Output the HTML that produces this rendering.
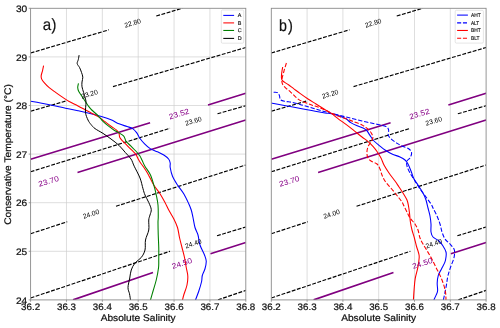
<!DOCTYPE html><html><head><meta charset="utf-8"><title>TS diagram</title>
<style>html,body{margin:0;padding:0;background:#fff;}svg{display:block;font-family:"Liberation Sans", sans-serif;will-change:transform;opacity:0.999;}text{text-rendering:geometricPrecision;}</style></head><body>
<svg width="500" height="328" viewBox="0 0 500 328">
<rect width="500" height="328" fill="#fff"/>
<clipPath id="cp1"><rect x="30.60" y="8.3" width="215.20" height="291.60"/></clipPath>
<path d="M66.47,8.3 V299.9 M102.33,8.3 V299.9 M138.20,8.3 V299.9 M174.07,8.3 V299.9 M209.93,8.3 V299.9 M30.60,56.90 H245.80 M30.60,105.50 H245.80 M30.60,154.10 H245.80 M30.60,202.70 H245.80 M30.60,251.30 H245.80" stroke="#cccccc" stroke-width="0.65" fill="none"/>
<g clip-path="url(#cp1)">
<path d="M30.60,53.00 L109.00,29.80 M156.25,16.00 L182.30,8.30 M30.60,111.25 L65.50,101.10 M113.00,86.60 L245.80,47.50 M30.60,171.75 L170.00,128.25 M217.50,113.75 L245.80,105.75 M30.60,233.75 L67.25,221.75 M116.00,206.25 L245.80,165.00 M30.60,298.00 L170.00,251.25 M217.00,235.75 L245.80,227.00 M218.00,299.90 L245.80,290.40" stroke="#000" stroke-width="1.15" stroke-dasharray="3.9 1.5" fill="none"/>
<path d="M30.60,159.30 L150.10,122.80 M208.00,105.00 L245.80,93.25 M77.50,172.50 L245.80,120.00 M73.00,299.90 L153.00,272.50 M210.50,253.75 L245.80,242.50" stroke="#800080" stroke-width="1.65" fill="none"/>
</g>
<g clip-path="url(#cp1)" fill="none" stroke-width="1.08" stroke-linejoin="round">
<path d="M30.60,101.25 C32.25,101.54 36.77,102.29 40.50,103.00 C44.23,103.71 48.83,104.62 53.00,105.50 C57.17,106.38 61.33,107.38 65.50,108.25 C69.67,109.12 74.25,109.96 78.00,110.75 C81.75,111.54 84.10,112.03 88.00,113.00 C91.90,113.97 97.57,115.47 101.40,116.60 C105.23,117.73 108.07,118.60 111.00,119.80 C113.93,121.00 116.33,122.68 119.00,123.80 C121.67,124.92 124.73,125.70 127.00,126.50 C129.27,127.30 131.00,127.58 132.60,128.60 C134.20,129.62 135.40,131.00 136.60,132.60 C137.80,134.20 138.47,136.33 139.80,138.20 C141.13,140.07 142.87,142.07 144.60,143.80 C146.33,145.53 148.07,147.27 150.20,148.60 C152.33,149.93 155.13,150.73 157.40,151.80 C159.67,152.87 161.93,153.80 163.80,155.00 C165.67,156.20 167.53,157.67 168.60,159.00 C169.67,160.33 169.93,161.58 170.20,163.00 C170.47,164.42 169.82,165.29 170.20,167.50 C170.58,169.71 171.28,173.33 172.50,176.25 C173.72,179.17 175.62,182.08 177.50,185.00 C179.38,187.92 181.88,190.62 183.75,193.75 C185.62,196.88 187.50,201.04 188.75,203.75 C190.00,206.46 190.54,207.71 191.25,210.00 C191.96,212.29 192.38,214.58 193.00,217.50 C193.62,220.42 194.17,224.58 195.00,227.50 C195.83,230.42 197.17,232.08 198.00,235.00 C198.83,237.92 198.92,241.67 200.00,245.00 C201.08,248.33 203.46,252.29 204.50,255.00 C205.54,257.71 206.17,258.96 206.25,261.25 C206.33,263.54 205.66,266.38 205.00,268.75 C204.34,271.12 202.87,273.38 202.30,275.50 C201.73,277.62 202.19,278.88 201.60,281.50 C201.01,284.12 199.77,288.18 198.75,291.25 C197.73,294.32 196.04,298.46 195.50,299.90" stroke="#0000ff"/>
<path d="M43.60,65.70 C43.42,66.55 42.90,69.15 42.50,70.80 C42.10,72.45 41.33,74.22 41.20,75.60 C41.07,76.98 41.17,77.90 41.70,79.10 C42.23,80.30 43.15,81.38 44.40,82.80 C45.65,84.22 47.33,86.00 49.20,87.60 C51.07,89.20 53.47,90.85 55.60,92.40 C57.73,93.95 59.73,95.38 62.00,96.90 C64.27,98.42 66.53,100.00 69.20,101.50 C71.87,103.00 74.87,104.28 78.00,105.90 C81.13,107.53 84.63,109.47 88.00,111.25 C91.37,113.03 95.43,114.91 98.20,116.60 C100.97,118.29 102.47,119.80 104.60,121.40 C106.73,123.00 109.00,124.73 111.00,126.20 C113.00,127.67 115.27,129.00 116.60,130.20 C117.93,131.40 118.47,132.20 119.00,133.40 C119.53,134.60 119.13,136.07 119.80,137.40 C120.47,138.73 121.80,140.07 123.00,141.40 C124.20,142.73 125.53,143.93 127.00,145.40 C128.47,146.87 130.33,148.73 131.80,150.20 C133.27,151.67 134.73,152.73 135.80,154.20 C136.87,155.67 137.40,157.53 138.20,159.00 C139.00,160.47 139.80,161.80 140.60,163.00 C141.40,164.20 141.77,164.37 143.00,166.20 C144.23,168.03 146.21,170.87 148.00,174.00 C149.79,177.13 151.75,181.71 153.75,185.00 C155.75,188.29 158.12,190.83 160.00,193.75 C161.88,196.67 163.54,199.79 165.00,202.50 C166.46,205.21 167.29,207.29 168.75,210.00 C170.21,212.71 172.29,215.83 173.75,218.75 C175.21,221.67 176.54,224.38 177.50,227.50 C178.46,230.62 178.75,234.17 179.50,237.50 C180.25,240.83 181.17,244.17 182.00,247.50 C182.83,250.83 183.79,254.17 184.50,257.50 C185.21,260.83 185.70,264.42 186.25,267.50 C186.80,270.58 187.68,273.08 187.80,276.00 C187.93,278.92 187.68,281.83 187.00,285.00 C186.32,288.17 184.50,292.52 183.75,295.00 C183.00,297.48 182.71,299.08 182.50,299.90" stroke="#ff0000"/>
<path d="M78.50,83.30 C78.37,84.02 77.65,86.22 77.70,87.60 C77.75,88.98 78.08,90.13 78.80,91.60 C79.52,93.07 80.93,94.80 82.00,96.40 C83.07,98.00 84.20,99.68 85.20,101.20 C86.20,102.72 86.91,104.03 88.00,105.50 C89.09,106.97 90.05,108.28 91.75,110.00 C93.45,111.72 96.33,113.90 98.20,115.80 C100.08,117.70 101.27,119.67 103.00,121.40 C104.73,123.13 106.73,124.73 108.60,126.20 C110.47,127.67 112.47,129.08 114.20,130.20 C115.93,131.32 117.45,131.97 119.00,132.90 C120.55,133.83 122.48,134.78 123.50,135.80 C124.52,136.82 124.65,138.07 125.10,139.00 C125.55,139.93 125.22,140.20 126.20,141.40 C127.18,142.60 129.40,144.60 131.00,146.20 C132.60,147.80 134.33,149.40 135.80,151.00 C137.27,152.60 138.73,154.20 139.80,155.80 C140.87,157.40 141.35,158.87 142.20,160.60 C143.05,162.33 143.52,163.80 144.90,166.20 C146.28,168.60 148.90,171.45 150.50,175.00 C152.10,178.55 153.54,184.17 154.50,187.50 C155.46,190.83 155.67,192.08 156.25,195.00 C156.83,197.92 157.67,201.33 158.00,205.00 C158.33,208.67 158.25,214.08 158.25,217.00 C158.25,219.92 158.00,219.50 158.00,222.50 C158.00,225.50 158.12,230.83 158.25,235.00 C158.38,239.17 158.67,243.33 158.75,247.50 C158.83,251.67 158.79,256.58 158.75,260.00 C158.71,263.42 158.92,264.67 158.50,268.00 C158.08,271.33 157.17,276.12 156.25,280.00 C155.33,283.88 153.96,287.93 153.00,291.25 C152.04,294.57 150.92,298.46 150.50,299.90" stroke="#008000"/>
<path d="M79.10,55.10 C78.97,55.85 78.62,58.18 78.30,59.60 C77.98,61.02 76.98,62.27 77.20,63.60 C77.42,64.93 78.88,66.13 79.60,67.60 C80.32,69.07 80.97,70.80 81.50,72.40 C82.03,74.00 82.72,75.60 82.80,77.20 C82.88,78.80 82.13,80.40 82.00,82.00 C81.87,83.60 81.73,85.07 82.00,86.80 C82.27,88.53 83.07,90.53 83.60,92.40 C84.13,94.27 84.80,96.32 85.20,98.00 C85.60,99.68 85.95,100.08 86.00,102.50 C86.05,104.92 85.17,109.58 85.50,112.50 C85.83,115.42 87.08,118.00 88.00,120.00 C88.92,122.00 89.83,123.07 91.00,124.50 C92.17,125.93 93.00,127.12 95.00,128.60 C97.00,130.08 100.33,131.67 103.00,133.40 C105.67,135.13 108.33,137.00 111.00,139.00 C113.67,141.00 116.60,143.13 119.00,145.40 C121.40,147.67 123.40,150.33 125.40,152.60 C127.40,154.87 129.53,156.73 131.00,159.00 C132.47,161.27 132.70,163.03 134.20,166.20 C135.70,169.37 138.53,174.24 140.00,178.00 C141.47,181.76 142.17,185.92 143.00,188.75 C143.83,191.58 144.04,192.71 145.00,195.00 C145.96,197.29 147.71,200.08 148.75,202.50 C149.79,204.92 151.04,207.42 151.25,209.50 C151.46,211.58 150.42,213.25 150.00,215.00 C149.58,216.75 148.96,217.50 148.75,220.00 C148.54,222.50 149.29,226.67 148.75,230.00 C148.21,233.33 146.12,236.67 145.50,240.00 C144.88,243.33 145.71,247.08 145.00,250.00 C144.29,252.92 142.92,255.33 141.25,257.50 C139.58,259.67 136.67,260.92 135.00,263.00 C133.33,265.08 132.12,267.50 131.25,270.00 C130.38,272.50 130.29,275.08 129.75,278.00 C129.21,280.92 128.04,284.88 128.00,287.50 C127.96,290.12 129.08,291.68 129.50,293.75 C129.92,295.82 130.33,298.88 130.50,299.90" stroke="#000000" stroke-width="1.0"/>
</g>
<text x="132.70" y="25.35" font-size="6.8" text-anchor="middle" textLength="16.9" lengthAdjust="spacingAndGlyphs" fill="#000" transform="rotate(-16.4 132.70 23.00)">22.80</text>
<text x="89.50" y="96.35" font-size="6.8" text-anchor="middle" textLength="16.9" lengthAdjust="spacingAndGlyphs" fill="#000" transform="rotate(-16.4 89.50 94.00)">23.20</text>
<text x="193.40" y="123.35" font-size="6.8" text-anchor="middle" textLength="16.9" lengthAdjust="spacingAndGlyphs" fill="#000" transform="rotate(-16.5 193.40 121.00)">23.60</text>
<text x="91.00" y="216.35" font-size="6.8" text-anchor="middle" textLength="16.9" lengthAdjust="spacingAndGlyphs" fill="#000" transform="rotate(-17.5 91.00 214.00)">24.00</text>
<text x="193.30" y="245.95" font-size="6.8" text-anchor="middle" textLength="16.9" lengthAdjust="spacingAndGlyphs" fill="#000" transform="rotate(-18.0 193.30 243.60)">24.40</text>
<text x="179.00" y="116.50" font-size="7.6" text-anchor="middle" textLength="21.0" lengthAdjust="spacingAndGlyphs" fill="#880088" transform="rotate(-17.0 179.00 113.80)">23.52</text>
<text x="48.60" y="183.90" font-size="7.6" text-anchor="middle" textLength="21.0" lengthAdjust="spacingAndGlyphs" fill="#880088" transform="rotate(-17.0 48.60 181.20)">23.70</text>
<text x="181.90" y="266.00" font-size="7.6" text-anchor="middle" textLength="21.0" lengthAdjust="spacingAndGlyphs" fill="#880088" transform="rotate(-18.0 181.90 263.30)">24.50</text>
<path d="M30.60,299.9 v1.9 M66.47,299.9 v1.9 M102.33,299.9 v1.9 M138.20,299.9 v1.9 M174.07,299.9 v1.9 M209.93,299.9 v1.9 M245.80,299.9 v1.9 M30.60,8.30 h-1.9 M30.60,56.90 h-1.9 M30.60,105.50 h-1.9 M30.60,154.10 h-1.9 M30.60,202.70 h-1.9 M30.60,251.30 h-1.9 M30.60,299.90 h-1.9" stroke="#777" stroke-width="0.7" fill="none"/>
<rect x="30.60" y="8.3" width="215.20" height="291.60" fill="none" stroke="#8a8a8a" stroke-width="0.9"/>
<text x="30.60" y="309.9" font-size="9.4" text-anchor="middle" textLength="19.0" lengthAdjust="spacingAndGlyphs" fill="#111" stroke="#111" stroke-width="0.22">36.2</text>
<text x="66.47" y="309.9" font-size="9.4" text-anchor="middle" textLength="19.0" lengthAdjust="spacingAndGlyphs" fill="#111" stroke="#111" stroke-width="0.22">36.3</text>
<text x="102.33" y="309.9" font-size="9.4" text-anchor="middle" textLength="19.0" lengthAdjust="spacingAndGlyphs" fill="#111" stroke="#111" stroke-width="0.22">36.4</text>
<text x="138.20" y="309.9" font-size="9.4" text-anchor="middle" textLength="19.0" lengthAdjust="spacingAndGlyphs" fill="#111" stroke="#111" stroke-width="0.22">36.5</text>
<text x="174.07" y="309.9" font-size="9.4" text-anchor="middle" textLength="19.0" lengthAdjust="spacingAndGlyphs" fill="#111" stroke="#111" stroke-width="0.22">36.6</text>
<text x="209.93" y="309.9" font-size="9.4" text-anchor="middle" textLength="19.0" lengthAdjust="spacingAndGlyphs" fill="#111" stroke="#111" stroke-width="0.22">36.7</text>
<text x="245.80" y="309.9" font-size="9.4" text-anchor="middle" textLength="19.0" lengthAdjust="spacingAndGlyphs" fill="#111" stroke="#111" stroke-width="0.22">36.8</text>
<text x="138.20" y="320.6" font-size="9.6" text-anchor="middle" textLength="75.0" lengthAdjust="spacingAndGlyphs" fill="#111" stroke="#111" stroke-width="0.22">Absolute Salinity</text>
<text x="27.2" y="11.90" font-size="9.4" text-anchor="end" textLength="11.3" lengthAdjust="spacingAndGlyphs" fill="#111" stroke="#111" stroke-width="0.22">30</text>
<text x="27.2" y="60.50" font-size="9.4" text-anchor="end" textLength="11.3" lengthAdjust="spacingAndGlyphs" fill="#111" stroke="#111" stroke-width="0.22">29</text>
<text x="27.2" y="109.10" font-size="9.4" text-anchor="end" textLength="11.3" lengthAdjust="spacingAndGlyphs" fill="#111" stroke="#111" stroke-width="0.22">28</text>
<text x="27.2" y="157.70" font-size="9.4" text-anchor="end" textLength="11.3" lengthAdjust="spacingAndGlyphs" fill="#111" stroke="#111" stroke-width="0.22">27</text>
<text x="27.2" y="206.30" font-size="9.4" text-anchor="end" textLength="11.3" lengthAdjust="spacingAndGlyphs" fill="#111" stroke="#111" stroke-width="0.22">26</text>
<text x="27.2" y="254.90" font-size="9.4" text-anchor="end" textLength="11.3" lengthAdjust="spacingAndGlyphs" fill="#111" stroke="#111" stroke-width="0.22">25</text>
<text x="27.2" y="303.50" font-size="9.4" text-anchor="end" textLength="11.3" lengthAdjust="spacingAndGlyphs" fill="#111" stroke="#111" stroke-width="0.22">24</text>
<text x="0" y="0" font-size="9.6" text-anchor="middle" textLength="140.6" lengthAdjust="spacingAndGlyphs" fill="#111" stroke="#111" stroke-width="0.22" transform="translate(11.0 154.5) rotate(-90)">Conservative Temperature (°C)</text>
<g font-size="16.3" fill="#111" stroke="#111" stroke-width="0.2"><text x="42.75" y="30.45" textLength="8.4" lengthAdjust="spacingAndGlyphs">a</text><text x="51.6" y="30.45" textLength="4.9" lengthAdjust="spacingAndGlyphs">)</text></g>
<rect x="221.3" y="10" width="22.4" height="33.2" rx="1.2" fill="#fff" fill-opacity="0.8" stroke="#d4d4d4" stroke-width="0.6"/>
<path d="M223.3,15.40 H234.1" stroke="#0000ff" stroke-width="1.05" fill="none"/>
<text x="237.8" y="17.05" font-size="5.4" fill="#222" stroke="#222" stroke-width="0.18">A</text>
<path d="M223.3,22.90 H234.1" stroke="#ff0000" stroke-width="1.05" fill="none"/>
<text x="237.8" y="24.85" font-size="5.4" fill="#222" stroke="#222" stroke-width="0.18">B</text>
<path d="M223.3,30.45 H234.1" stroke="#008000" stroke-width="1.05" fill="none"/>
<text x="237.8" y="32.45" font-size="5.4" fill="#222" stroke="#222" stroke-width="0.18">C</text>
<path d="M223.3,38.40 H234.1" stroke="#000000" stroke-width="1.05" fill="none"/>
<text x="237.8" y="40.15" font-size="5.4" fill="#222" stroke="#222" stroke-width="0.18">D</text>
<clipPath id="cp2"><rect x="271.30" y="8.3" width="214.80" height="291.60"/></clipPath>
<path d="M307.10,8.3 V299.9 M342.90,8.3 V299.9 M378.70,8.3 V299.9 M414.50,8.3 V299.9 M450.30,8.3 V299.9" stroke="#cccccc" stroke-width="0.65" fill="none"/>
<g clip-path="url(#cp2)">
<path d="M271.30,53.00 L349.55,29.80 M396.72,16.00 L422.72,8.30 M271.30,111.25 L306.14,101.10 M353.55,86.60 L486.10,47.50 M271.30,171.75 L410.44,128.25 M457.85,113.75 L486.10,105.75 M271.30,233.75 L307.88,221.75 M356.54,206.25 L486.10,165.00 M271.30,298.00 L410.44,251.25 M457.35,235.75 L486.10,227.00 M458.35,299.90 L486.10,290.40" stroke="#000" stroke-width="1.15" stroke-dasharray="3.9 1.5" fill="none"/>
<path d="M271.30,159.30 L390.58,122.80 M448.37,105.00 L486.10,93.25 M318.11,172.50 L486.10,120.00 M313.62,299.90 L393.47,272.50 M450.87,253.75 L486.10,242.50" stroke="#800080" stroke-width="1.65" fill="none"/>
</g>
<g clip-path="url(#cp2)" fill="none" stroke-width="1.08" stroke-linejoin="round">
<path d="M271.30,103.00 C273.25,103.38 278.55,104.47 283.00,105.30 C287.45,106.13 293.00,107.09 298.00,108.00 C303.00,108.91 308.50,109.92 313.00,110.75 C317.50,111.58 321.90,112.53 325.00,113.00 C328.10,113.47 329.17,113.12 331.60,113.60 C334.03,114.08 337.20,115.03 339.60,115.90 C342.00,116.77 344.13,117.68 346.00,118.80 C347.87,119.92 348.93,121.43 350.80,122.60 C352.67,123.77 355.07,124.87 357.20,125.80 C359.33,126.73 362.00,127.40 363.60,128.20 C365.20,129.00 365.73,129.40 366.80,130.60 C367.87,131.80 368.80,133.67 370.00,135.40 C371.20,137.13 372.40,139.27 374.00,141.00 C375.60,142.73 377.77,144.30 379.60,145.80 C381.43,147.30 382.93,148.63 385.00,150.00 C387.07,151.37 389.50,152.83 392.00,154.00 C394.50,155.17 397.83,156.00 400.00,157.00 C402.17,158.00 403.67,158.83 405.00,160.00 C406.33,161.17 407.00,162.17 408.00,164.00 C409.00,165.83 410.00,168.50 411.00,171.00 C412.00,173.50 412.83,176.67 414.00,179.00 C415.17,181.33 416.50,182.67 418.00,185.00 C419.50,187.33 421.67,190.50 423.00,193.00 C424.33,195.50 425.17,197.50 426.00,200.00 C426.83,202.50 427.33,205.33 428.00,208.00 C428.67,210.67 429.50,213.33 430.00,216.00 C430.50,218.67 430.83,221.33 431.00,224.00 C431.17,226.67 430.67,229.83 431.00,232.00 C431.33,234.17 431.67,235.50 433.00,237.00 C434.33,238.50 437.33,239.50 439.00,241.00 C440.67,242.50 441.83,244.17 443.00,246.00 C444.17,247.83 445.50,250.17 446.00,252.00 C446.50,253.83 446.18,255.32 446.00,257.00 C445.82,258.68 445.63,260.15 444.90,262.10 C444.17,264.05 442.70,266.50 441.60,268.70 C440.50,270.90 439.03,272.92 438.30,275.30 C437.57,277.68 437.32,280.43 437.20,283.00 C437.08,285.57 437.78,288.68 437.60,290.70 C437.42,292.72 436.72,293.57 436.10,295.10 C435.48,296.63 434.27,299.10 433.90,299.90" stroke="#0000ff"/>
<path d="M273.60,92.30 C274.27,92.35 276.62,92.02 277.60,92.60 C278.58,93.18 279.02,94.60 279.50,95.80 C279.98,97.00 279.48,98.87 280.50,99.80 C281.52,100.73 283.68,100.98 285.60,101.40 C287.52,101.82 289.60,101.80 292.00,102.30 C294.40,102.80 297.33,103.65 300.00,104.40 C302.67,105.15 305.33,106.00 308.00,106.80 C310.67,107.60 313.33,108.43 316.00,109.20 C318.67,109.97 321.40,110.70 324.00,111.40 C326.60,112.10 327.93,112.47 331.60,113.40 C335.27,114.33 340.93,115.73 346.00,117.00 C351.07,118.27 356.67,119.75 362.00,121.00 C367.33,122.25 374.00,123.57 378.00,124.50 C382.00,125.43 384.23,125.72 386.00,126.60 C387.77,127.48 388.20,128.33 388.60,129.80 C389.00,131.27 387.90,133.80 388.40,135.40 C388.90,137.00 390.13,138.07 391.60,139.40 C393.07,140.73 395.47,142.30 397.20,143.40 C398.93,144.50 400.03,145.07 402.00,146.00 C403.97,146.93 407.40,147.83 409.00,149.00 C410.60,150.17 411.43,151.50 411.60,153.00 C411.77,154.50 410.77,156.67 410.00,158.00 C409.23,159.33 407.50,159.67 407.00,161.00 C406.50,162.33 406.50,164.00 407.00,166.00 C407.50,168.00 408.67,170.50 410.00,173.00 C411.33,175.50 413.33,178.33 415.00,181.00 C416.67,183.67 418.17,186.33 420.00,189.00 C421.83,191.67 424.17,194.50 426.00,197.00 C427.83,199.50 429.83,202.17 431.00,204.00 C432.17,205.83 432.00,206.00 433.00,208.00 C434.00,210.00 435.83,213.33 437.00,216.00 C438.17,218.67 439.17,221.33 440.00,224.00 C440.83,226.67 441.17,229.50 442.00,232.00 C442.83,234.50 443.67,237.00 445.00,239.00 C446.33,241.00 448.50,242.33 450.00,244.00 C451.50,245.67 453.23,247.50 454.00,249.00 C454.77,250.50 454.65,251.37 454.60,253.00 C454.55,254.63 454.40,256.37 453.70,258.80 C453.00,261.23 451.38,264.67 450.40,267.60 C449.42,270.53 448.47,273.47 447.80,276.40 C447.13,279.33 446.88,282.45 446.40,285.20 C445.92,287.95 445.40,290.45 444.90,292.90 C444.40,295.35 443.65,298.73 443.40,299.90" stroke="#0000ff" stroke-dasharray="4.3 1.85"/>
<path d="M282.70,67.00 C282.58,67.67 282.20,69.67 282.00,71.00 C281.80,72.33 281.58,73.78 281.50,75.00 C281.42,76.22 281.33,77.37 281.50,78.30 C281.67,79.23 281.95,79.92 282.50,80.60 C283.05,81.28 283.80,81.70 284.80,82.40 C285.80,83.10 287.03,83.77 288.50,84.80 C289.97,85.83 291.68,87.17 293.60,88.60 C295.52,90.03 297.60,91.67 300.00,93.40 C302.40,95.13 305.33,97.23 308.00,99.00 C310.67,100.77 313.08,102.17 316.00,104.00 C318.92,105.83 322.90,108.40 325.50,110.00 C328.10,111.60 329.52,112.17 331.60,113.60 C333.68,115.03 335.60,116.80 338.00,118.60 C340.40,120.40 343.33,122.40 346.00,124.40 C348.67,126.40 351.33,128.50 354.00,130.60 C356.67,132.70 359.60,135.13 362.00,137.00 C364.40,138.87 366.53,140.20 368.40,141.80 C370.27,143.40 371.77,144.98 373.20,146.60 C374.63,148.22 375.70,149.60 377.00,151.50 C378.30,153.40 379.83,155.75 381.00,158.00 C382.17,160.25 382.67,162.50 384.00,165.00 C385.33,167.50 387.17,170.33 389.00,173.00 C390.83,175.67 393.33,178.67 395.00,181.00 C396.67,183.33 397.67,185.00 399.00,187.00 C400.33,189.00 401.67,190.83 403.00,193.00 C404.33,195.17 406.08,197.83 407.00,200.00 C407.92,202.17 408.07,203.67 408.50,206.00 C408.93,208.33 409.28,211.33 409.60,214.00 C409.92,216.67 410.00,219.33 410.40,222.00 C410.80,224.67 411.33,227.33 412.00,230.00 C412.67,232.67 413.67,235.33 414.40,238.00 C415.13,240.67 415.70,243.50 416.40,246.00 C417.10,248.50 418.13,251.08 418.60,253.00 C419.07,254.92 419.33,255.07 419.20,257.50 C419.07,259.93 418.47,264.08 417.80,267.60 C417.13,271.12 415.82,274.93 415.20,278.60 C414.58,282.27 414.40,286.05 414.10,289.60 C413.80,293.15 413.52,298.18 413.40,299.90" stroke="#ff0000"/>
<path d="M286.40,63.00 C286.00,64.33 284.73,68.33 284.00,71.00 C283.27,73.67 282.27,76.87 282.00,79.00 C281.73,81.13 281.80,82.33 282.40,83.80 C283.00,85.27 284.27,86.47 285.60,87.80 C286.93,89.13 288.80,90.33 290.40,91.80 C292.00,93.27 293.60,95.17 295.20,96.60 C296.80,98.03 298.13,99.33 300.00,100.40 C301.87,101.47 304.27,102.17 306.40,103.00 C308.53,103.83 310.87,104.73 312.80,105.40 C314.73,106.07 315.80,106.15 318.00,107.00 C320.20,107.85 323.73,109.47 326.00,110.50 C328.27,111.53 329.60,112.28 331.60,113.20 C333.60,114.12 335.60,115.07 338.00,116.00 C340.40,116.93 343.33,117.83 346.00,118.80 C348.67,119.77 351.33,120.77 354.00,121.80 C356.67,122.83 359.87,123.93 362.00,125.00 C364.13,126.07 365.33,127.00 366.80,128.20 C368.27,129.40 369.78,130.73 370.80,132.20 C371.82,133.67 372.77,135.53 372.90,137.00 C373.03,138.47 372.32,139.58 371.60,141.00 C370.88,142.42 369.37,143.83 368.60,145.50 C367.83,147.17 367.17,149.08 367.00,151.00 C366.83,152.92 366.93,155.33 367.60,157.00 C368.27,158.67 369.43,159.83 371.00,161.00 C372.57,162.17 375.50,162.67 377.00,164.00 C378.50,165.33 379.17,167.17 380.00,169.00 C380.83,170.83 381.17,173.00 382.00,175.00 C382.83,177.00 383.67,179.00 385.00,181.00 C386.33,183.00 388.33,185.00 390.00,187.00 C391.67,189.00 393.50,191.17 395.00,193.00 C396.50,194.83 397.83,196.50 399.00,198.00 C400.17,199.50 401.17,200.67 402.00,202.00 C402.83,203.33 403.17,204.33 404.00,206.00 C404.83,207.67 406.00,210.00 407.00,212.00 C408.00,214.00 408.67,216.00 410.00,218.00 C411.33,220.00 413.67,222.00 415.00,224.00 C416.33,226.00 417.17,227.67 418.00,230.00 C418.83,232.33 419.17,235.67 420.00,238.00 C420.83,240.33 421.78,241.82 423.00,244.00 C424.22,246.18 425.85,248.63 427.30,251.10 C428.75,253.57 430.23,256.05 431.70,258.80 C433.17,261.55 434.63,264.67 436.10,267.60 C437.57,270.53 439.22,273.47 440.50,276.40 C441.78,279.33 442.95,282.45 443.80,285.20 C444.65,287.95 445.23,290.45 445.60,292.90 C445.97,295.35 445.93,298.73 446.00,299.90" stroke="#ff0000" stroke-dasharray="4.3 1.85"/>
</g>
<text x="373.21" y="25.35" font-size="6.8" text-anchor="middle" textLength="16.9" lengthAdjust="spacingAndGlyphs" fill="#000" transform="rotate(-16.4 373.21 23.00)">22.80</text>
<text x="330.09" y="96.35" font-size="6.8" text-anchor="middle" textLength="16.9" lengthAdjust="spacingAndGlyphs" fill="#000" transform="rotate(-16.4 330.09 94.00)">23.20</text>
<text x="433.80" y="123.35" font-size="6.8" text-anchor="middle" textLength="16.9" lengthAdjust="spacingAndGlyphs" fill="#000" transform="rotate(-16.5 433.80 121.00)">23.60</text>
<text x="331.59" y="216.35" font-size="6.8" text-anchor="middle" textLength="16.9" lengthAdjust="spacingAndGlyphs" fill="#000" transform="rotate(-17.5 331.59 214.00)">24.00</text>
<text x="433.70" y="245.95" font-size="6.8" text-anchor="middle" textLength="16.9" lengthAdjust="spacingAndGlyphs" fill="#000" transform="rotate(-18.0 433.70 243.60)">24.40</text>
<text x="419.42" y="116.50" font-size="7.6" text-anchor="middle" textLength="21.0" lengthAdjust="spacingAndGlyphs" fill="#880088" transform="rotate(-17.0 419.42 113.80)">23.52</text>
<text x="289.27" y="183.90" font-size="7.6" text-anchor="middle" textLength="21.0" lengthAdjust="spacingAndGlyphs" fill="#880088" transform="rotate(-17.0 289.27 181.20)">23.70</text>
<text x="422.32" y="266.00" font-size="7.6" text-anchor="middle" textLength="21.0" lengthAdjust="spacingAndGlyphs" fill="#880088" transform="rotate(-18.0 422.32 263.30)">24.50</text>
<path d="M271.30,299.9 v1.9 M307.10,299.9 v1.9 M342.90,299.9 v1.9 M378.70,299.9 v1.9 M414.50,299.9 v1.9 M450.30,299.9 v1.9 M486.10,299.9 v1.9" stroke="#777" stroke-width="0.7" fill="none"/>
<rect x="271.30" y="8.3" width="214.80" height="291.60" fill="none" stroke="#8a8a8a" stroke-width="0.9"/>
<text x="271.30" y="309.9" font-size="9.4" text-anchor="middle" textLength="19.0" lengthAdjust="spacingAndGlyphs" fill="#111" stroke="#111" stroke-width="0.22">36.2</text>
<text x="307.10" y="309.9" font-size="9.4" text-anchor="middle" textLength="19.0" lengthAdjust="spacingAndGlyphs" fill="#111" stroke="#111" stroke-width="0.22">36.3</text>
<text x="342.90" y="309.9" font-size="9.4" text-anchor="middle" textLength="19.0" lengthAdjust="spacingAndGlyphs" fill="#111" stroke="#111" stroke-width="0.22">36.4</text>
<text x="378.70" y="309.9" font-size="9.4" text-anchor="middle" textLength="19.0" lengthAdjust="spacingAndGlyphs" fill="#111" stroke="#111" stroke-width="0.22">36.5</text>
<text x="414.50" y="309.9" font-size="9.4" text-anchor="middle" textLength="19.0" lengthAdjust="spacingAndGlyphs" fill="#111" stroke="#111" stroke-width="0.22">36.6</text>
<text x="450.30" y="309.9" font-size="9.4" text-anchor="middle" textLength="19.0" lengthAdjust="spacingAndGlyphs" fill="#111" stroke="#111" stroke-width="0.22">36.7</text>
<text x="486.10" y="309.9" font-size="9.4" text-anchor="middle" textLength="19.0" lengthAdjust="spacingAndGlyphs" fill="#111" stroke="#111" stroke-width="0.22">36.8</text>
<text x="378.70" y="320.6" font-size="9.6" text-anchor="middle" textLength="75.0" lengthAdjust="spacingAndGlyphs" fill="#111" stroke="#111" stroke-width="0.22">Absolute Salinity</text>
<g font-size="16.3" fill="#111" stroke="#111" stroke-width="0.2"><text x="279.1" y="30.55" textLength="7.9" lengthAdjust="spacingAndGlyphs">b</text><text x="287.9" y="30.55" textLength="4.9" lengthAdjust="spacingAndGlyphs">)</text></g>
<rect x="455.2" y="10.3" width="28.2" height="32.8" rx="1.2" fill="#fff" fill-opacity="0.8" stroke="#d4d4d4" stroke-width="0.6"/>
<path d="M457.1,15.10 H467.9" stroke="#0000ff" stroke-width="1.05" fill="none"/>
<text x="471.0" y="17.05" font-size="5.4" textLength="9.7" lengthAdjust="spacingAndGlyphs" fill="#222" stroke="#222" stroke-width="0.18">AHT</text>
<path d="M457.1,22.85 H467.9" stroke="#0000ff" stroke-width="1.05" fill="none" stroke-dasharray="4.07 1.76"/>
<text x="471.0" y="24.80" font-size="5.4" textLength="8.2" lengthAdjust="spacingAndGlyphs" fill="#222" stroke="#222" stroke-width="0.18">ALT</text>
<path d="M457.1,30.45 H467.9" stroke="#ff0000" stroke-width="1.05" fill="none"/>
<text x="471.0" y="32.40" font-size="5.4" textLength="9.7" lengthAdjust="spacingAndGlyphs" fill="#222" stroke="#222" stroke-width="0.18">BHT</text>
<path d="M457.1,38.20 H467.9" stroke="#ff0000" stroke-width="1.05" fill="none" stroke-dasharray="4.07 1.76"/>
<text x="471.0" y="40.15" font-size="5.4" textLength="8.5" lengthAdjust="spacingAndGlyphs" fill="#222" stroke="#222" stroke-width="0.18">BLT</text>
</svg></body></html>
